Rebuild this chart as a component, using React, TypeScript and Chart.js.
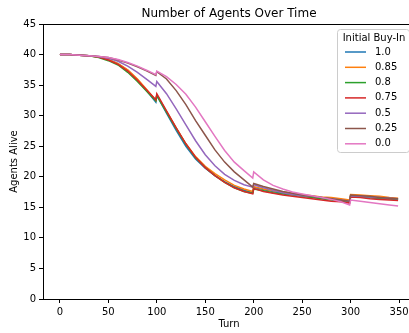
import React, { useEffect, useRef } from "react";
import { Chart, registerables } from "chart.js";

Chart.register(...registerables);

const turns = [0, 10, 20, 30, 40, 50, 60, 70, 80, 90, 99, 100, 110, 120, 130, 140, 150, 160, 170, 180, 190, 199, 200, 210, 220, 230, 240, 250, 260, 270, 280, 290, 299, 300, 310, 320, 330, 340, 349];

const buyIn100 = [40, 40, 39.9, 39.8, 39.6, 39.2, 38.5, 37.4, 35.9, 34.0, 32.2, 33.3, 30.4, 27.6, 25.0, 22.9, 21.4, 20.2, 19.2, 18.4, 17.8, 17.4, 18.3, 17.9, 17.6, 17.3, 17.1, 16.9, 16.7, 16.5, 16.3, 16.1, 15.9, 16.9, 16.8, 16.6, 16.5, 16.4, 16.3];
const buyIn085 = [40, 40, 39.9, 39.8, 39.6, 39.2, 38.5, 37.5, 36.0, 34.2, 32.5, 33.4, 30.7, 28.0, 25.4, 23.3, 21.7, 20.5, 19.5, 18.6, 18.0, 17.6, 18.4, 18.0, 17.7, 17.5, 17.3, 17.1, 16.9, 16.7, 16.6, 16.4, 16.2, 17.1, 17.0, 16.9, 16.8, 16.6, 16.5];
const buyIn080 = [40, 40, 39.9, 39.8, 39.5, 39.0, 38.3, 37.1, 35.6, 33.9, 32.4, 33.3, 30.6, 27.9, 25.3, 23.1, 21.5, 20.2, 19.1, 18.2, 17.6, 17.3, 18.0, 17.7, 17.4, 17.2, 17.0, 16.8, 16.6, 16.4, 16.2, 16.0, 15.8, 16.8, 16.7, 16.6, 16.5, 16.4, 16.3];
const buyIn075 = [40, 40, 39.9, 39.8, 39.6, 39.1, 38.4, 37.3, 35.8, 34.1, 32.6, 33.6, 30.8, 28.0, 25.4, 23.2, 21.5, 20.2, 19.1, 18.2, 17.6, 17.2, 18.1, 17.6, 17.3, 17.0, 16.8, 16.6, 16.4, 16.2, 16.0, 15.9, 15.7, 16.7, 16.6, 16.4, 16.3, 16.2, 16.1];
const buyIn050 = [40, 40, 39.9, 39.8, 39.7, 39.4, 38.9, 38.1, 37.1, 35.9, 34.8, 35.6, 33.6, 31.1, 28.5, 25.9, 23.6, 21.8, 20.4, 19.4, 18.7, 18.3, 18.7, 18.2, 17.8, 17.4, 17.1, 16.9, 16.8, 16.6, 16.4, 16.2, 16.0, 16.9, 16.8, 16.7, 16.6, 16.5, 16.4];
const buyIn025 = [40, 40, 39.9, 39.8, 39.7, 39.5, 39.1, 38.6, 38.0, 37.3, 36.6, 37.2, 36.0, 34.1, 31.8, 29.2, 26.8, 24.4, 22.4, 20.8, 19.5, 18.3, 18.9, 18.4, 18.0, 17.6, 17.3, 17.0, 16.8, 16.6, 16.4, 16.2, 16.0, 17.0, 16.9, 16.8, 16.6, 16.5, 16.4];
const buyIn000 = [40, 40, 39.9, 39.8, 39.7, 39.5, 39.2, 38.7, 38.1, 37.4, 36.7, 37.3, 36.4, 35.1, 33.5, 31.4, 29.0, 26.6, 24.3, 22.4, 21.0, 19.8, 20.8, 19.5, 18.6, 18.0, 17.5, 17.2, 16.9, 16.6, 16.3, 15.9, 15.4, 16.2, 16.0, 15.8, 15.6, 15.4, 15.2];

const seriesLabels = ["1.0", "0.85", "0.8", "0.75", "0.5", "0.25", "0.0"];
const seriesValues = [buyIn100, buyIn085, buyIn080, buyIn075, buyIn050, buyIn025, buyIn000];
const seriesColors = ["#1f77b4", "#ff7f0e", "#2ca02c", "#d62728", "#9467bd", "#8c564b", "#e377c2"];

const xTicks = [0, 50, 100, 150, 200, 250, 300, 350];
const yTicks = [0, 5, 10, 15, 20, 25, 30, 35, 40, 45];

const chartTitle = "Number of Agents Over Time";
const xTitle = "Turn";
const yTitle = "Agents Alive";
const legendTitle = "Initial Buy-In";

const FONT = '"DejaVu Sans", sans-serif';

const overlayPlugin = {
  id: "overlay",
  afterDraw(chart: any) {
    const ctx = chart.ctx;
    const { left, right, top, bottom } = chart.chartArea;
    ctx.save();
    ctx.strokeStyle = "#000";
    ctx.lineWidth = 1;
    ctx.beginPath();
    ctx.moveTo(left, top + 0.5);
    ctx.lineTo(right, top + 0.5);
    ctx.moveTo(right - 0.5, top);
    ctx.lineTo(right - 0.5, bottom);
    ctx.stroke();

    ctx.fillStyle = "#000";
    ctx.textBaseline = "middle";
    ctx.textAlign = "center";
    ctx.font = `12px ${FONT}`;
    ctx.fillText(chartTitle, (left + right) / 2, 13.5);
    ctx.font = `10px ${FONT}`;
    ctx.fillText(xTitle, (left + right) / 2, 324);
    ctx.save();
    ctx.translate(14, (top + bottom) / 2);
    ctx.rotate(-Math.PI / 2);
    ctx.fillText(yTitle, 0, 0);
    ctx.restore();

    const bx = 337.5, by = 29.5, bw = 72, bh = 123, r = 3;
    ctx.beginPath();
    ctx.moveTo(bx + r, by);
    ctx.lineTo(bx + bw - r, by);
    ctx.quadraticCurveTo(bx + bw, by, bx + bw, by + r);
    ctx.lineTo(bx + bw, by + bh - r);
    ctx.quadraticCurveTo(bx + bw, by + bh, bx + bw - r, by + bh);
    ctx.lineTo(bx + r, by + bh);
    ctx.quadraticCurveTo(bx, by + bh, bx, by + bh - r);
    ctx.lineTo(bx, by + r);
    ctx.quadraticCurveTo(bx, by, bx + r, by);
    ctx.closePath();
    ctx.fillStyle = "rgba(255,255,255,0.8)";
    ctx.fill();
    ctx.strokeStyle = "#cccccc";
    ctx.stroke();

    ctx.fillStyle = "#000";
    ctx.textAlign = "center";
    ctx.fillText(legendTitle, 374, 38.5);
    ctx.textAlign = "left";
    seriesLabels.forEach((lab, i) => {
      const y = 52 + i * 15.3;
      ctx.strokeStyle = seriesColors[i];
      ctx.lineWidth = 1.5;
      ctx.beginPath();
      ctx.moveTo(345, y);
      ctx.lineTo(366, y);
      ctx.stroke();
      ctx.fillStyle = "#000";
      ctx.fillText(lab, 375, y);
    });
    ctx.restore();
  },
};

export default function App() {
  const ref = useRef<HTMLCanvasElement | null>(null);
  useEffect(() => {
    if (!ref.current) return;
    const datasets = seriesLabels.map((lab, i) => ({
      label: lab,
      data: turns.map((t, j) => ({ x: t, y: seriesValues[i][j] })),
      borderColor: seriesColors[i],
      backgroundColor: seriesColors[i],
      borderWidth: 1.5,
      pointRadius: 0,
      tension: 0,
      fill: false,
      order: seriesLabels.length - i,
    }));
    const chart = new Chart(ref.current, {
      type: "line",
      data: { datasets },
      options: {
        animation: false,
        responsive: true,
        maintainAspectRatio: false,
        layout: { padding: { top: 24, right: 5, left: 0, bottom: 0 } },
        plugins: { legend: { display: false }, title: { display: false }, tooltip: { enabled: false } },
        scales: {
          x: {
            type: "linear",
            min: -17.45,
            max: 366.45,
            afterFit: (s: any) => { s.height = 34; },
            afterBuildTicks: (s: any) => { s.ticks = xTicks.map((v) => ({ value: v })); },
            grid: { drawOnChartArea: false, drawTicks: true, tickLength: 4, color: "#000" },
            border: { color: "#000", width: 1 },
            ticks: { color: "#000", font: { family: FONT, size: 10 }, padding: 3, maxRotation: 0 },
          },
          y: {
            type: "linear",
            min: 0,
            max: 45,
            afterFit: (s: any) => { s.width = 43; },
            afterBuildTicks: (s: any) => { s.ticks = yTicks.map((v) => ({ value: v })); },
            grid: { drawOnChartArea: false, drawTicks: true, tickLength: 4, color: "#000" },
            border: { color: "#000", width: 1 },
            ticks: { color: "#000", font: { family: FONT, size: 10 }, padding: 3 },
          },
        },
      },
      plugins: [overlayPlugin],
    });
    return () => chart.destroy();
  }, []);
  return (
    <div style={{ position: "fixed", left: 0, top: 0, width: 409, height: 333, overflow: "hidden", background: "#fff" }}>
      <div style={{ position: "relative", width: 420, height: 333 }}>
        <canvas ref={ref} />
      </div>
    </div>
  );
}
